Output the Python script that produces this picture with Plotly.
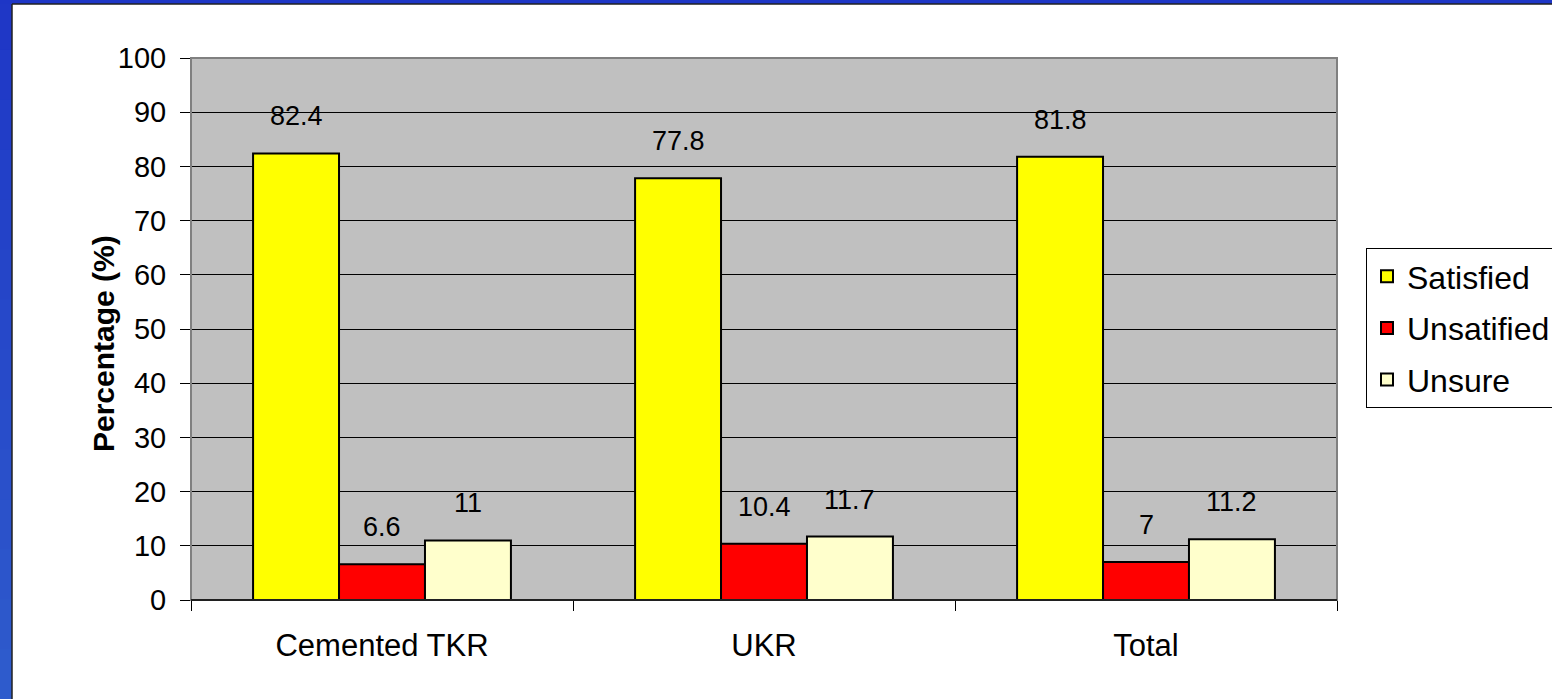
import plotly.graph_objects as go

categories = ["Cemented TKR", "UKR", "Total"]
satisfied = [82.4, 77.8, 81.8]
unsatisfied = [6.6, 10.4, 7.0]
unsure = [11.0, 11.7, 11.2]
series_names = ["Satisfied", "Unsatified", "Unsure"]
series_colors = ["#FFFF00", "#FF0000", "#FFFFCC"]
y_ticks = list(range(0, 101, 10))

W, H = 1552, 699
L, R, T, B = 191, 215, 58, 99
pw, ph = W - L - R, H - T - B
FONT = "Liberation Sans, Arial"

fig = go.Figure()
series = [satisfied, unsatisfied, unsure]
for i, (name, vals, col) in enumerate(zip(series_names, series, series_colors)):
    fig.add_trace(go.Bar(
        x=categories, y=vals, name=name,
        marker=dict(color=col, line=dict(color="black", width=2)),
        legendgroup=name,
    ))

# data labels above bars
bar_px = pw / 3 * 0.675 / 3
for i, vals in enumerate(series):
    for c, v in zip(categories, vals):
        fig.add_annotation(x=c, y=v, xref="x", yref="y", text=f"{v:g}",
                           showarrow=False, xshift=(i - 1) * bar_px, yshift=37,
                           font=dict(family=FONT, size=27, color="black"))

# y-axis title
fig.add_annotation(x=(103 - L) / pw, y=(600 - 344) / ph, xref="paper", yref="paper",
                   xanchor="center", yanchor="middle",
                   text="<b>Percentage (%)</b>", textangle=-90, showarrow=False,
                   font=dict(family=FONT, size=30, color="black"))

# blue frame strips (gradient bands)
def lerp(a, b, t):
    return tuple(int(round(a[k] + (b[k] - a[k]) * t)) for k in range(3))

top_c, bot_c = (0x1E, 0x36, 0xC6), (0x2F, 0x5C, 0xCC)
n = 14
for k in range(n):
    y0 = k / n * H
    y1 = (k + 1) / n * H + 1
    c = lerp(bot_c, top_c, (k + 0.5) / n)
    fig.add_shape(type="rect", xref="paper", yref="paper", layer="below",
                  x0=-L / pw, x1=(12 - L) / pw,
                  y0=(y0 - B) / ph, y1=(y1 - B) / ph,
                  fillcolor="rgb(%d,%d,%d)" % c, line=dict(width=0))
fig.add_shape(type="rect", xref="paper", yref="paper", layer="below",
              x0=-L / pw, x1=1 + R / pw, y0=1 + (T - 4) / ph, y1=1 + T / ph + 0.01,
              fillcolor="rgb(30,54,198)", line=dict(width=0))
fig.add_shape(type="line", xref="paper", yref="paper",
              x0=(12 - L) / pw, x1=(12 - L) / pw, y0=-B / ph - 0.01, y1=1 + (T - 4) / ph,
              line=dict(color="#202020", width=1.5))
fig.add_shape(type="line", xref="paper", yref="paper",
              x0=(12 - L) / pw, x1=1 + R / pw, y0=1 + (T - 4) / ph, y1=1 + (T - 4) / ph,
              line=dict(color="#202020", width=1.5))
# plot area border
fig.add_shape(type="rect", xref="paper", yref="paper", layer="above",
              x0=0, x1=1, y0=0, y1=1, line=dict(color="#808080", width=2))
fig.add_shape(type="line", xref="paper", yref="paper", layer="above",
              x0=0, x1=1, y0=0, y1=0, line=dict(color="black", width=1.5))

fig.update_layout(
    width=W, height=H,
    margin=dict(l=L, r=R, t=T, b=B, autoexpand=False),
    paper_bgcolor="white", plot_bgcolor="#C0C0C0",
    barmode="group", bargap=0.325, bargroupgap=0,
    font=dict(family=FONT, color="black"),
    showlegend=True,
    legend=dict(x=(1366 - L) / pw, y=(600 - 248) / ph, xanchor="left", yanchor="top",
                bordercolor="black", borderwidth=1, bgcolor="white",
                font=dict(size=32), traceorder="grouped", tracegroupgap=7,
                itemwidth=30),
)
fig.update_xaxes(
    type="category", tickson="boundaries", ticks="outside", ticklen=10,
    tickcolor="black", tickwidth=1, showline=False,
    tickfont=dict(size=31), showgrid=False, zeroline=False, ticklabelstandoff=24,
)
fig.update_yaxes(
    range=[0, 100], tickvals=y_ticks, ticks="outside", ticklen=10,
    tickcolor="black", tickwidth=1, showgrid=True, gridcolor="black", gridwidth=1,
    tickfont=dict(size=29), zeroline=False, ticklabelstandoff=8, showline=False,
)

fig.write_html("out.html", config={"displayModeBar": False},
               post_script="document.body.style.margin='0';document.body.style.overflow='hidden';")
